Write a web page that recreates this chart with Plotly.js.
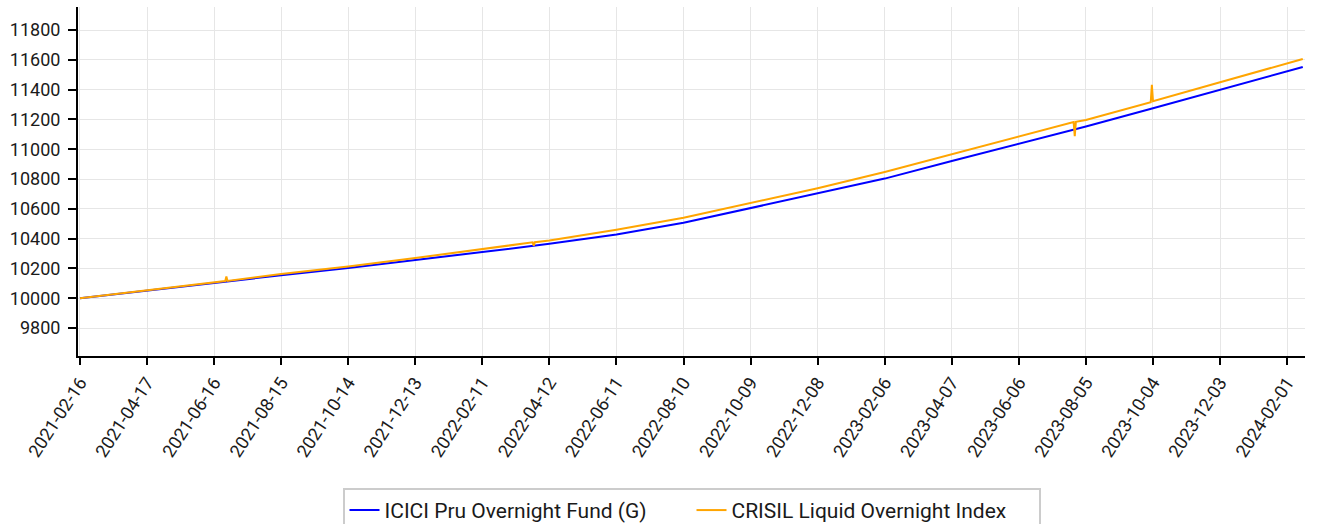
<!DOCTYPE html>
<html>
<head>
<meta charset="utf-8">
<script src="https://cdn.plot.ly/plotly-3.0.1.min.js"></script>
<style>
html,body{margin:0;padding:0;background:#fff;}
#chart{width:1322px;height:524px;}
</style>
</head>
<body>
<div id="chart"></div>
<script>
// Series names
const fundName = "ICICI Pru Overnight Fund (G)";
const indexName = "CRISIL Liquid Overnight Index";

// ICICI Pru Overnight Fund (G) — dates and growth of 10000
const fundDates = [
  "2021-02-16","2021-04-17","2021-06-16","2021-08-15","2021-10-14","2021-12-13",
  "2022-02-11","2022-04-12","2022-06-11","2022-08-10","2022-10-09","2022-12-08",
  "2023-02-06","2023-04-07","2023-06-06","2023-08-05","2023-10-04","2023-12-03",
  "2024-02-01","2024-02-15"
];
const fundValues = [
  10000,10052,10104,10154,10203,10255,
  10310,10365,10427,10506,10605,10700,
  10803,10921,11036,11153,11275,11398,
  11523,11552
];

// CRISIL Liquid Overnight Index — dates and growth of 10000 (includes spikes)
const indexDates = [
  "2021-02-16","2021-04-17","2021-06-16","2021-06-26","2021-06-27","2021-06-28",
  "2021-08-15","2021-10-14","2021-12-13","2022-02-11","2022-03-28","2022-03-29",
  "2022-03-30","2022-04-12","2022-06-11","2022-08-10","2022-10-09","2022-12-08",
  "2023-02-06","2023-04-07","2023-06-06","2023-07-25","2023-07-26","2023-07-27",
  "2023-08-05","2023-10-02","2023-10-03","2023-10-04","2023-12-03","2024-02-01",
  "2024-02-15"
];
const indexValues = [
  10000,10054,10107,10115,10145,10116,
  10162,10213,10270,10330,10375,10352,
  10376,10388,10459,10540,10640,10738,
  10847,10966,11085,11183,11087,11184,
  11197,11316,11433,11322,11450,11578,
  11606
];

// Axis ticks
const yTicks = [9800,10000,10200,10400,10600,10800,11000,11200,11400,11600,11800];

const tickFont = {family: "Roboto, 'Open Sans', sans-serif", size: 18, color: "#1a1a1a"};
const legendFont = {family: "Roboto, 'Open Sans', sans-serif", size: 21, color: "#1a1a1a"};

const traces = [
  {x: fundDates, y: fundValues, name: fundName, type: "scatter", mode: "lines",
   line: {color: "#0000ff", width: 2}},
  {x: indexDates, y: indexValues, name: indexName, type: "scatter", mode: "lines",
   line: {color: "#ffa500", width: 2}}
];

const layout = {
  width: 1322, height: 524,
  margin: {l: 78, r: 17, t: 7, b: 168, autoexpand: false},
  paper_bgcolor: "#fff", plot_bgcolor: "#fff",
  font: tickFont,
  showlegend: true,
  legend: {orientation: "h", x: 0.5, xanchor: "center", y: -0.378, yanchor: "top",
           entrywidth: 302, entrywidthmode: "pixels",
           bordercolor: "#cccccc", borderwidth: 2, font: legendFont},
  xaxis: {
    type: "date", automargin: false,
    range: ["2021-02-14 06:00", "2024-02-17"],
    tick0: "2021-02-16", dtick: 60*86400000,
    tickformat: "%Y-%m-%d", tickangle: -57,
    showgrid: true, gridcolor: "#e6e6e6", gridwidth: 1,
    showline: true, linecolor: "#000", linewidth: 2,
    ticks: "outside", ticklen: 7, tickcolor: "#000", tickwidth: 2,
    zeroline: false, tickfont: tickFont
  },
  yaxis: {
    automargin: false,
    range: [9612, 11955],
    tickvals: yTicks, ticktext: yTicks.map(String),
    showgrid: true, gridcolor: "#e6e6e6", gridwidth: 1,
    showline: true, linecolor: "#000", linewidth: 2,
    ticks: "outside", ticklen: 8, tickcolor: "#000", tickwidth: 2,
    ticklabelstandoff: 4,
    zeroline: false, tickfont: tickFont
  }
};

Plotly.newPlot("chart", traces, layout, {displayModeBar: false, staticPlot: true});
</script>
</body>
</html>
